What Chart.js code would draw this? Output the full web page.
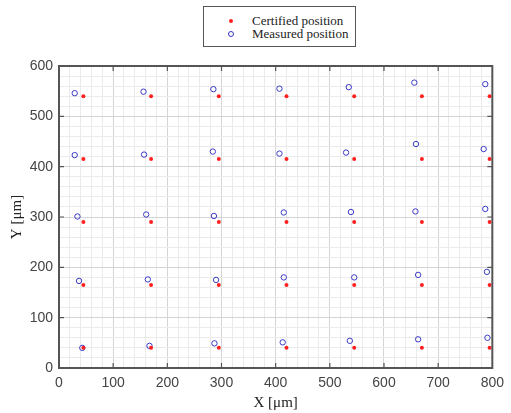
<!DOCTYPE html>
<html>
<head>
<meta charset="utf-8">
<script src="https://cdn.jsdelivr.net/npm/chart.js@4/dist/chart.umd.min.js"></script>
<style>
  html, body { margin: 0; padding: 0; background: #fff; }
  #wrap { position: relative; width: 511px; height: 413px; }
  #legend {
    position: absolute; left: 203px; top: 6px; width: 151px; height: 39px;
    border: 1px solid #555; background: #fff;
    font: 13px "Liberation Serif", "Times New Roman", serif; color: #222;
  }
  .row { position: absolute; left: 0; height: 14px; line-height: 14px; }
  .row span.txt { position: absolute; left: 48px; white-space: nowrap; }
  .mk { position: absolute; left: 24px; top: 5px; border-radius: 50%; }
</style>
</head>
<body>
<div id="wrap">
  <canvas id="chart" width="511" height="413"></canvas>
  <div id="legend">
    <div class="row" style="top:7px"><span class="mk" style="width:4px;height:4px;background:#f22;left:25px"></span><span class="txt">Certified position</span></div>
    <div class="row" style="top:20px"><span class="mk" style="width:4px;height:4px;border:1px solid #33c;top:4px"></span><span class="txt">Measured position</span></div>
  </div>
</div>
<script>
/* certified grid (µm) */
const certX = [45, 170, 295, 420, 545, 670, 795];
const certY = [40, 165, 290, 415, 540];

/* measured positions, one row per certified Y, left to right */
const measX540 = [29, 156, 285, 407, 535, 656, 787];
const measY540 = [546, 549, 554, 555, 558, 567, 564];
const measX415 = [29, 157, 284, 407, 530, 659, 784];
const measY415 = [423, 424, 430, 426, 428, 445, 435];
const measX290 = [34, 161, 286, 415, 539, 658, 787];
const measY290 = [301, 305, 302, 309, 310, 311, 316];
const measX165 = [37, 164, 290, 415, 545, 663, 790];
const measY165 = [173, 176, 175, 180, 180, 185, 191];
const measX40  = [43, 167, 287, 413, 537, 663, 791];
const measY40  = [40, 44, 49, 51, 54, 57, 60];

const measRows = [
  [measX540, measY540], [measX415, measY415], [measX290, measY290],
  [measX165, measY165], [measX40, measY40],
];

const certified = certY.flatMap(y => certX.map(x => ({ x, y })));
const measured  = measRows.flatMap(([xs, ys]) => xs.map((x, i) => ({ x, y: ys[i] })));

const TICK_FONT  = { family: "'Liberation Sans', Arial, sans-serif", size: 14 };
const TITLE_FONT = { family: "'Liberation Serif', 'Times New Roman', serif", size: 15 };

const gridColor = (ctx) => (ctx.tick && ctx.tick.value % 100 === 0 ? "#d4d4d4" : "#ebebeb");
const label100  = (v) => (v % 100 === 0 ? String(v) : "");

/* MATLAB style box with inward ticks */
const frame = {
  id: "frame",
  afterDraw(chart) {
    const { ctx, chartArea: a, scales } = chart;
    ctx.save();
    ctx.strokeStyle = "#555";
    ctx.lineWidth = 2;
    ctx.strokeRect(a.left, a.top, a.right - a.left, a.bottom - a.top);
    ctx.lineWidth = 1.2;
    ctx.beginPath();
    for (let v = 100; v < 800; v += 100) {
      const px = scales.x.getPixelForValue(v);
      ctx.moveTo(px, a.bottom); ctx.lineTo(px, a.bottom - 5);
      ctx.moveTo(px, a.top);    ctx.lineTo(px, a.top + 5);
    }
    for (let v = 100; v < 600; v += 100) {
      const py = scales.y.getPixelForValue(v);
      ctx.moveTo(a.left, py);  ctx.lineTo(a.left + 5, py);
      ctx.moveTo(a.right, py); ctx.lineTo(a.right - 5, py);
    }
    ctx.stroke();
    ctx.restore();
  },
};

new Chart(document.getElementById("chart"), {
  type: "scatter",
  data: {
    datasets: [
      {
        label: "Certified position",
        data: certified,
        pointRadius: 2,
        pointBackgroundColor: "#ff2020",
        pointBorderWidth: 0,
      },
      {
        label: "Measured position",
        data: measured,
        pointRadius: 2.7,
        pointBackgroundColor: "rgba(0,0,0,0)",
        pointBorderColor: "#3a3ac8",
        pointBorderWidth: 1,
      },
    ],
  },
  options: {
    responsive: false,
    animation: false,
    layout: { padding: { top: 66, right: 11, left: 0, bottom: 0 } },
    plugins: { legend: { display: false }, tooltip: { enabled: false } },
    scales: {
      x: {
        type: "linear", min: 0, max: 800,
        afterFit: (s) => { s.height = 45; },
        ticks: { stepSize: 20, autoSkip: false, maxRotation: 0, color: "#444", font: TICK_FONT, padding: 7, callback: label100 },
        grid: { color: gridColor, drawTicks: false },
        border: { display: false },
        title: { display: true, text: "X [μm]", color: "#222", font: TITLE_FONT, padding: { top: 0, bottom: 1 } },
      },
      y: {
        type: "linear", min: 0, max: 600,
        afterFit: (s) => { s.width = 59; },
        ticks: { stepSize: 20, autoSkip: false, color: "#444", font: TICK_FONT, padding: 6, callback: label100 },
        grid: { color: gridColor, drawTicks: false },
        border: { display: false },
        title: { display: true, text: "Y [μm]", color: "#222", font: TITLE_FONT, padding: { top: 8, bottom: 0 } },
      },
    },
  },
  plugins: [frame],
});
</script>
</body>
</html>
